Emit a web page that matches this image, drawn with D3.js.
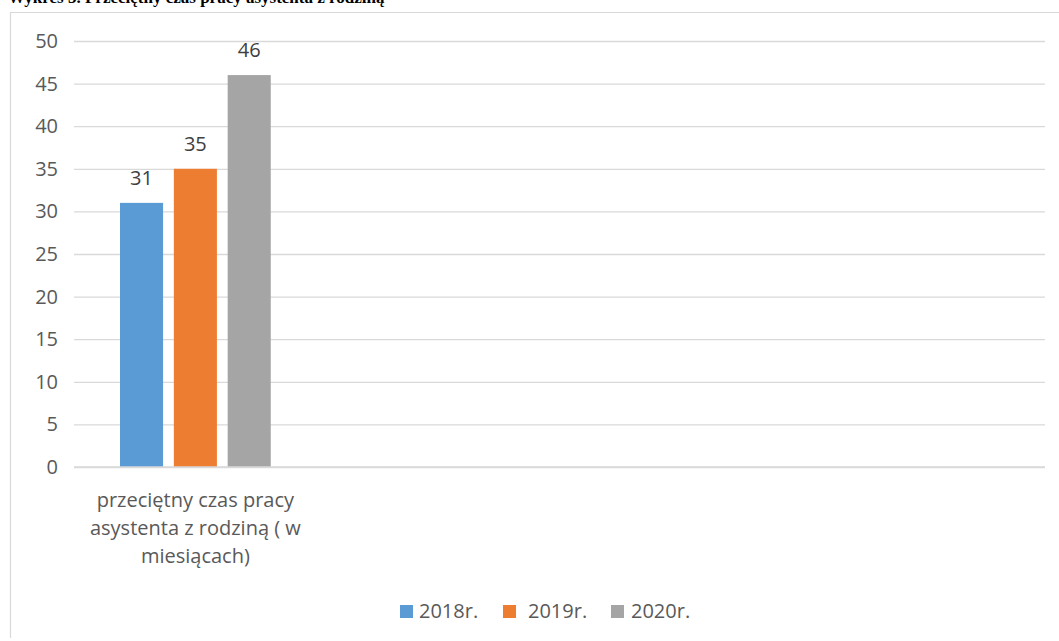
<!DOCTYPE html>
<html>
<head>
<meta charset="utf-8">
<script src="https://cdn.jsdelivr.net/npm/d3@7"></script>
<style>
    body { margin: 0; background: #fff; }
    #chart { width: 1059px; height: 641px; }
    .tick text { fill: #595959; }
</style>
</head>
<body>
<div id="chart"></div>
<script>
// data
const categories = ['przeciętny czas pracy asystenta z rodziną ( w miesiącach)', '', '', ''];
const seriesNames = ['2018r.', '2019r.', '2020r.'];
const seriesColors = ['#5b9bd5', '#ed7d31', '#a5a5a5'];
const values2018 = [31, null, null, null];
const values2019 = [35, null, null, null];
const values2020 = [46, null, null, null];
const yTicks = [0, 5, 10, 15, 20, 25, 30, 35, 40, 45, 50];
const titleText = 'Wykres 3. Przeciętny czas pracy asystenta z rodziną';

const series = [values2018, values2019, values2020];

const width = 1059;
const height = 641;
const margin = { top: 41, right: 14, bottom: 174, left: 74 };
const font = '"Open Sans", "Noto Sans", sans-serif';
const fontSize = 20;

const svg = d3.select('#chart')
    .append('svg')
    .attr('width', width)
    .attr('height', height)
    .style('font-family', font);

// title, mostly cut off by the top of the picture
svg.append('text')
    .attr('x', 8)
    .attr('y', 2.5)
    .attr('font-family', '"Liberation Serif", serif')
    .attr('font-weight', 'bold')
    .attr('font-size', 17)
    .attr('fill', '#000')
    .text(titleText);

// chart frame (right and bottom edges fall outside)
svg.append('path')
    .attr('d', `M10.5,${height - 3} V12.5 H${width}`)
    .attr('fill', 'none')
    .attr('stroke', '#d9d9d9')
    .attr('stroke-width', 1.2);

const innerW = width - margin.left - margin.right;
const innerH = height - margin.top - margin.bottom;

const g = svg.append('g')
    .attr('transform', `translate(${margin.left},${margin.top})`);

const xScale = d3.scaleBand()
    .domain(d3.range(categories.length))
    .range([0, innerW]);

const xInner = d3.scaleBand()
    .domain(d3.range(series.length))
    .range([46, xScale.bandwidth() - 46])
    .paddingInner(0.2);

const yScale = d3.scaleLinear()
    .domain([0, 50])
    .range([innerH, 0]);

// grid
const yGrid = d3.axisRight(yScale)
    .tickValues(yTicks)
    .tickSizeInner(innerW)
    .tickSizeOuter(0)
    .tickFormat('');
g.append('g')
    .attr('class', 'grid')
    .call(yGrid)
    .call(s => s.select('.domain').remove())
    .call(s => s.selectAll('line').attr('stroke', '#d9d9d9').attr('stroke-width', 1.3));

// y axis labels
const yAxis = d3.axisLeft(yScale)
    .tickValues(yTicks)
    .tickSize(0)
    .tickPadding(16);
g.append('g')
    .call(yAxis)
    .call(s => s.select('.domain').remove())
    .call(s => s.selectAll('text').attr('font-size', fontSize).attr('font-family', font));

// bars
series.forEach((vals, si) => {
    const bars = g.selectAll(`.bar-${si}`)
        .data(vals.map((v, ci) => ({ v, ci })).filter(d => d.v != null))
        .enter();

    bars.append('rect')
        .attr('class', `bar-${si}`)
        .attr('x', d => xScale(d.ci) + xInner(si))
        .attr('width', xInner.bandwidth())
        .attr('y', d => yScale(d.v))
        .attr('height', d => innerH - yScale(d.v))
        .attr('fill', seriesColors[si]);

    bars.append('text')
        .attr('x', d => xScale(d.ci) + xInner(si) + xInner.bandwidth() / 2)
        .attr('y', d => yScale(d.v) - 18)
        .attr('text-anchor', 'middle')
        .attr('font-size', fontSize)
        .attr('fill', '#404040')
        .text(d => d.v);
});

// x axis baseline
g.append('line')
    .attr('x1', 0)
    .attr('x2', innerW)
    .attr('y1', innerH)
    .attr('y2', innerH)
    .attr('stroke', '#d9d9d9')
    .attr('stroke-width', 1.3);

// category labels, wrapped into the band
function wrap(text, maxWidth) {
    text.each(function () {
        const t = d3.select(this);
        const words = t.text().split(/\s+/).filter(w => w.length);
        const x = t.attr('x');
        t.text(null);
        let line = [];
        let tspan = t.append('tspan').attr('x', x).attr('dy', 0);
        words.forEach(w => {
            line.push(w);
            tspan.text(line.join(' '));
            if (tspan.node().getComputedTextLength() > maxWidth && line.length > 1) {
                line.pop();
                tspan.text(line.join(' '));
                line = [w];
                tspan = t.append('tspan').attr('x', x).attr('dy', 28).text(w);
            }
        });
    });
}

g.selectAll('.cat')
    .data(categories)
    .enter()
    .append('text')
    .attr('class', 'cat')
    .attr('x', (d, i) => xScale(i) + xScale.bandwidth() / 2)
    .attr('y', innerH + 40)
    .attr('text-anchor', 'middle')
    .attr('font-size', fontSize)
    .attr('fill', '#595959')
    .text(d => d)
    .call(wrap, 236);

// legend
const legendItems = [
    { x: 400, tx: 419 },
    { x: 503, tx: 528 },
    { x: 611, tx: 631 }
];
const legend = svg.append('g');
seriesNames.forEach((name, i) => {
    legend.append('rect')
        .attr('x', legendItems[i].x)
        .attr('y', 605)
        .attr('width', 13)
        .attr('height', 13)
        .attr('fill', seriesColors[i]);
    legend.append('text')
        .attr('x', legendItems[i].tx)
        .attr('y', 618)
        .attr('font-size', fontSize)
        .attr('fill', '#595959')
        .text(name);
});
</script>
</body>
</html>
